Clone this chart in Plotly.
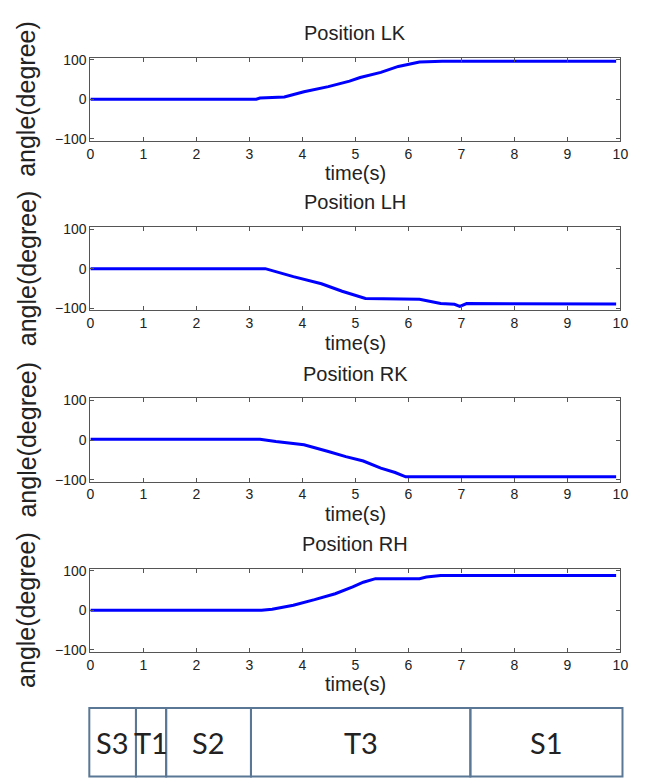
import plotly.graph_objects as go

# ---------------- data ----------------
lk_t = [0, 3.13, 3.2, 3.66, 4.03, 4.49, 4.89, 5.09, 5.48, 5.81, 6.21, 6.64, 9.92]
lk_v = [0, 0, 3, 6, 19, 32, 46, 55, 68, 83, 94, 96, 96]

lh_t = [0, 3.30, 3.83, 4.36, 4.75, 5.19, 6.21, 6.61, 6.87, 6.97, 7.10, 9.92]
lh_v = [0, 0, -20, -38, -57, -75, -77, -88, -90, -95, -88, -89]

rk_t = [0, 3.20, 3.50, 4.03, 4.49, 4.82, 5.15, 5.48, 5.75, 5.95, 9.92]
rk_v = [2, 2, -4, -12, -29, -42, -53, -71, -82, -93, -93]

rh_t = [0, 3.23, 3.43, 3.83, 4.23, 4.62, 4.95, 5.15, 5.38, 6.21, 6.34, 6.61, 9.92]
rh_v = [0, 0, 3, 13, 27, 42, 59, 71, 80, 80, 84, 88, 88]

panel_titles = ["Position LK", "Position LH", "Position RK", "Position RH"]
x_ticks = list(range(0, 11))
y_ticks = [-100, 0, 100]

phase_labels = ["S3", "T1", "S2", "T3", "S1"]
phase_edges = [-0.02, 0.86, 1.43, 3.03, 7.17, 10.04]

# ---------------- layout geometry ----------------
W, H = 648, 784
X0, X1 = 88, 628           # plot box left/right (px)
box_tops = [52.5, 224.5, 398.5, 571.5]
BOX_H = 84.5

def py(p):
    return 1 - p / H

FONT = "Liberation Sans, Arial, sans-serif"
AXC = "#555555"
TXT = "#222222"

fig = go.Figure()
series = [(lk_t, lk_v), (lh_t, lh_v), (rk_t, rk_v), (rh_t, rh_v)]
annotations = []
for i, ((t, v), title) in enumerate(zip(series, panel_titles)):
    n = i + 1
    xa = "x" if n == 1 else f"x{n}"
    ya = "y" if n == 1 else f"y{n}"
    fig.add_trace(go.Scatter(x=t, y=v, mode="lines", xaxis=xa, yaxis=ya,
                             line=dict(color="#0000ff", width=3),
                             showlegend=False, hoverinfo="skip"))
    top = box_tops[i]
    bot = top + BOX_H
    axis_common = dict(showline=True, linecolor=AXC, linewidth=1, mirror="ticks",
                       ticks="inside", ticklen=4, tickcolor=AXC, tickwidth=1,
                       showgrid=False, zeroline=False,
                       tickfont=dict(family=FONT, size=14, color=TXT),
                       fixedrange=True)
    fig.layout[f"xaxis{n}" if n > 1 else "xaxis"] = dict(
        domain=[X0 / W, X1 / W], range=[0, 10], tickvals=x_ticks,
        anchor=ya, **axis_common)
    fig.layout[f"yaxis{n}" if n > 1 else "yaxis"] = dict(
        domain=[py(bot), py(top)], range=[-105, 105], tickvals=y_ticks,
        anchor=xa, **axis_common)
    cx = (X0 + X1) / 2 / W
    annotations.append(dict(text=title, x=cx, y=py(top - 25), xref="paper", yref="paper",
                            showarrow=False, xanchor="center", yanchor="middle",
                            font=dict(family=FONT, size=20, color=TXT)))
    annotations.append(dict(text="time(s)", x=cx, y=py(bot + 33), xref="paper", yref="paper",
                            showarrow=False, xanchor="center", yanchor="middle",
                            font=dict(family=FONT, size=20, color=TXT)))
    annotations.append(dict(text="angle(degree)", x=23 / W, y=py(top + BOX_H / 2),
                            xref="paper", yref="paper", textangle=-90,
                            showarrow=False, xanchor="center", yanchor="middle",
                            font=dict(family=FONT, size=25, color=TXT)))

# table axis sharing the same time scale
pps = (X1 - X0) / 10
fig.layout["xaxis5"] = dict(domain=[0, 1], range=[-X0 / pps, (W - X0) / pps],
                            visible=False, anchor="y5", fixedrange=True)
fig.layout["yaxis5"] = dict(domain=[0, 90 / H], range=[0, 90], visible=False,
                            anchor="x5", fixedrange=True)
fig.add_trace(go.Scatter(x=[phase_edges[0], phase_edges[-1]], y=[1, 1], xaxis="x5",
                         yaxis="y5", mode="markers", marker=dict(opacity=0),
                         showlegend=False, hoverinfo="skip"))
shapes = []
for j, lab in enumerate(phase_labels):
    a, b = phase_edges[j], phase_edges[j + 1]
    shapes.append(dict(type="rect", xref="x5", yref="y5", x0=a, x1=b, y0=1.5, y1=71,
                       line=dict(color="#5a7896", width=2), fillcolor="rgba(0,0,0,0)"))
    annotations.append(dict(text=lab, x=(a + b) / 2, y=36, xref="x5", yref="y5",
                            showarrow=False, xanchor="center", yanchor="middle",
                            font=dict(family="Lato, Carlito, sans-serif", size=29,
                                      color=TXT)))

fig.update_layout(width=W, height=H, margin=dict(l=0, r=0, t=0, b=0),
                  paper_bgcolor="white", plot_bgcolor="white",
                  annotations=annotations, shapes=shapes, showlegend=False)
fig.write_html("out.html", config={"displayModeBar": False})
